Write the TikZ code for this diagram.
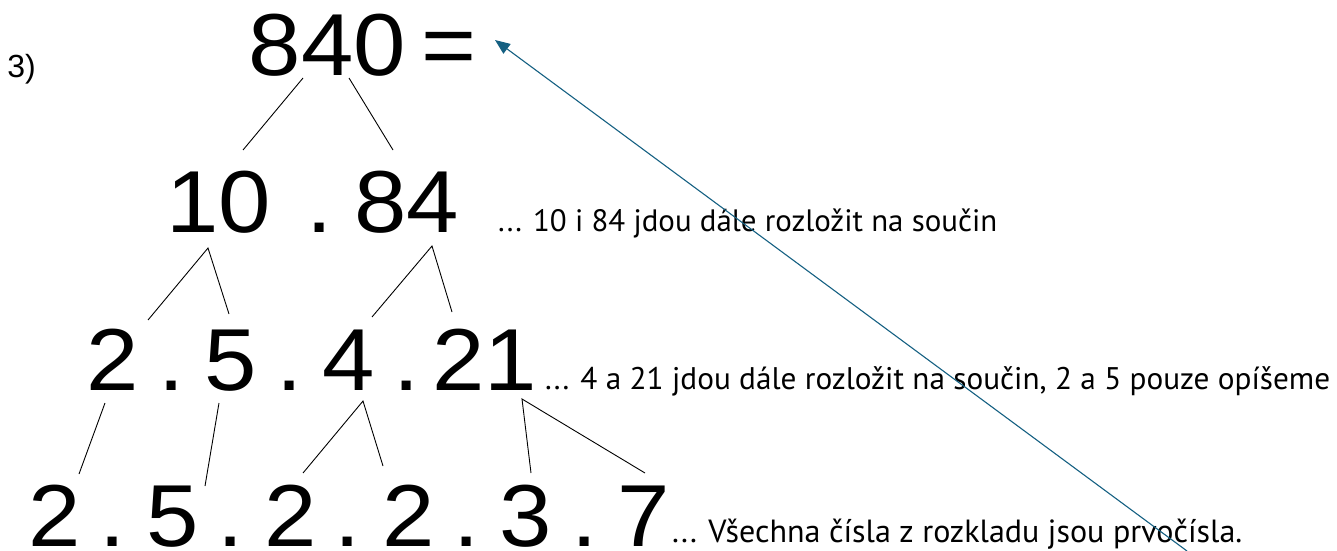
\documentclass[tikz,border=0pt]{standalone}
\usepackage{fontspec}
\usetikzlibrary{arrows.meta}
\newfontfamily\digitfont[FakeStretch=1.07]{Liberation Sans}
\newfontfamily\labelfont{Liberation Sans}
\newfontfamily\notefont{PT Sans}
\definecolor{arrowblue}{HTML}{156082}
\begin{document}
\begin{tikzpicture}[x=1bp,y=-1bp,
  big/.style={inner sep=0pt,anchor=base,font=\digitfont\fontsize{88bp}{100bp}\selectfont},
  note/.style={inner sep=0pt,anchor=base west,font=\notefont\fontsize{30bp}{36bp}\selectfont},
  branch/.style={draw=black,line width=0.9bp},
  pointer/.style={draw=arrowblue,line width=1.1bp,-{Triangle[length=15bp,width=12bp]}}]
\useasboundingbox (0,0) rectangle (1337,551);
% label
\node[inner sep=0pt,anchor=base,font=\labelfont\fontsize{32bp}{38bp}\selectfont] (lab) at (21.5,78) {3)};
% row 1
\node[big] (n840) at (327.5,76) {840};
\node[big] (eq) at (449,76) {=};
% row 2
\node[big] (n10) at (219,233) {10};
\node[big] (d21) at (320,233) {.};
\node[big] (n84) at (406.5,233) {84};
\node[note] (t2) at (498,232) {\resizebox{499bp}{!}{... 10 i 84 jdou dále rozložit na součin}};
% row 3
\node[big] (r3a) at (113,390) {2};
\node[big] (d31) at (172,390) {.};
\node[big] (r3b) at (231,390) {5};
\node[big] (d32) at (290,390) {.};
\node[big] (r3c) at (348.5,390) {4};
\node[big] (d33) at (407,390) {.};
\node[big] (r3d) at (485,390) {21};
\node[note] (t3) at (545,389) {\resizebox{785bp}{!}{... 4 a 21 jdou dále rozložit na součin, 2 a 5 pouze opíšeme}};
% row 4
\node[big] (r4a) at (54.5,546) {2};
\node[big] (d41) at (113,546) {.};
\node[big] (r4b) at (173,546) {5};
\node[big] (d42) at (231,546) {.};
\node[big] (r4c) at (290.5,546) {2};
\node[big] (d43) at (348,546) {.};
\node[big] (r4d) at (408.5,546) {2};
\node[big] (d44) at (467,546) {.};
\node[big] (r4e) at (526,546) {3};
\node[big] (d45) at (585,546) {.};
\node[big] (r4f) at (643.5,546) {7};
\node[note] (t4) at (672,542) {\resizebox{570bp}{!}{... Všechna čísla z rozkladu jsou prvočísla.}};
% connector end points
\coordinate (a840L) at (303,78);  \coordinate (b10) at (243,150);
\coordinate (a840R) at (349,78);  \coordinate (b84) at (393,150);
\coordinate (a10) at (208,248);   \coordinate (b3a) at (148,320); \coordinate (b3b) at (229,314);
\coordinate (a84) at (432,246);   \coordinate (b3c) at (372,317); \coordinate (b3d) at (452,312);
\coordinate (a3a) at (105,403);   \coordinate (b4a) at (79,474);
\coordinate (a3b) at (219,403);   \coordinate (b4b) at (205,486);
\coordinate (a3c) at (363,401);   \coordinate (b4c) at (303,473); \coordinate (b4d) at (383,466);
\coordinate (a3d) at (522,399);   \coordinate (b4e) at (531,473); \coordinate (b4f) at (645,473);
\coordinate (tail) at (1187,551); \coordinate (tip) at (495,40);
% tree branches
\draw[branch] (a840L) -- (b10);
\draw[branch] (a840R) -- (b84);
\draw[branch] (b3a) -- (a10) -- (b3b);
\draw[branch] (b3c) -- (a84) -- (b3d);
\draw[branch] (a3a) -- (b4a);
\draw[branch] (a3b) -- (b4b);
\draw[branch] (b4c) -- (a3c) -- (b4d);
\draw[branch] (b4e) -- (a3d) -- (b4f);
% arrow
\draw[pointer] (tail) -- (tip);
\end{tikzpicture}
\end{document}
